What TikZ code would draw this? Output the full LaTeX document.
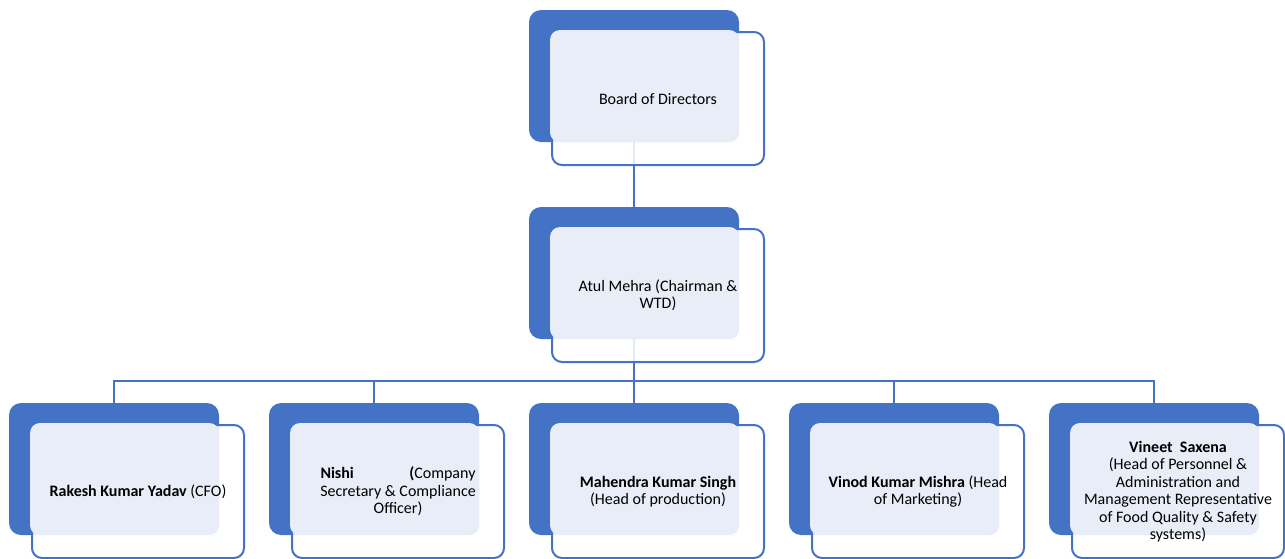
\documentclass[tikz,border=0pt]{standalone}
\usepackage{fontspec}
\setmainfont{Carlito}
\usetikzlibrary{calc,backgrounds}
\definecolor{accent}{HTML}{4472C4}
\definecolor{lightbox}{HTML}{E9EDF7}
\begin{document}
\begin{tikzpicture}[x=1pt,y=-1pt,
  back/.style={draw=none,fill=accent,rounded corners=12pt,minimum width=210pt,minimum height=132pt,inner sep=0pt},
  front/.style={draw=accent,line width=2pt,fill=white,fill opacity=0.85,rounded corners=10pt,minimum width=212pt,minimum height=133pt,inner sep=0pt},
  glass/.style={fill=lightbox,rounded corners=10pt},
  label/.style={align=center,font=\fontsize{16}{17.5}\selectfont,text=black,inner sep=0pt},
  link/.style={draw=accent,line width=2pt}]
\useasboundingbox (0,0) rectangle (1285,558);

% unit: back box + front box + glass + text
\newcommand{\orgunit}[4]{% name, back centre x, back centre y, text
  \node[back] (#1b) at (#2,#3) {};
  \node[front] (#1f) at ($(#1b.center)+(24,22.5)$) {};
  \fill[glass] ($(#1f.north west)+(-1,-1)$) rectangle (#1b.south east);
  \node[label] (#1t) at (#1f.center) {#4};
}

\orgunit{bod}{634}{76}{Board of Directors}
\orgunit{atul}{634}{273}{Atul Mehra (Chairman \&\\WTD)}
\orgunit{rak}{114}{469}{\textbf{Rakesh Kumar Yadav} (CFO)}
\orgunit{nis}{374}{469}{\makebox[155pt]{\textbf{Nishi}\hfill\textbf{(}Company}\\Secretary \& Compliance\\Officer)}
\orgunit{mah}{634}{469}{\textbf{Mahendra Kumar Singh}\\(Head of production)}
\orgunit{vin}{894}{469}{\textbf{Vinod Kumar Mishra} (Head\\of Marketing)}
\orgunit{vnt}{1154}{469}{\textbf{Vineet\ \ Saxena}\\(Head of Personnel \&\\Administration and\\Management Representative\\of Food Quality \& Safety\\systems)}

\coordinate (bus) at (634,381);
\begin{scope}[on background layer]
  \draw[link] (bodb.south) -- (atulb.north);
  \draw[link] (atulb.south) -- (bus);
  \draw[link] (bus) -| (rakb.north);
  \draw[link] (bus) -| (nisb.north);
  \draw[link] (bus) -- (mahb.north);
  \draw[link] (bus) -| (vinb.north);
  \draw[link] (bus) -| (vntb.north);
\end{scope}
\end{tikzpicture}
\end{document}
